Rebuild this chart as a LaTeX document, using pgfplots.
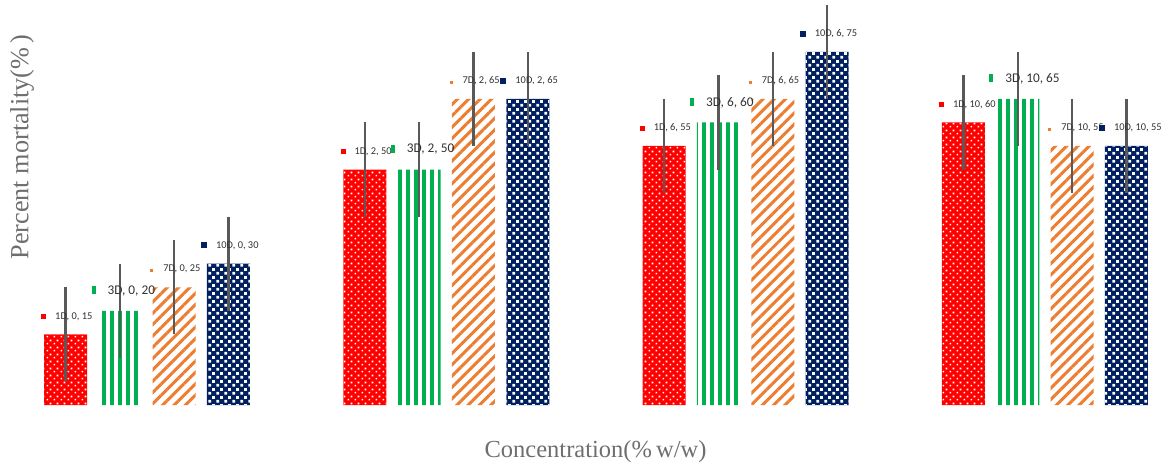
\documentclass[border=0pt]{standalone}
\usepackage{pgfplots}
\pgfplotsset{compat=1.18}
\usepackage{pgfplotstable}
\usepackage{fontspec}
\setmainfont{Liberation Serif}
\newfontfamily\lbl{Carlito}
\usetikzlibrary{patterns,patterns.meta}
\definecolor{cred}{RGB}{255,0,0}
\definecolor{cgreen}{RGB}{0,176,80}
\definecolor{corange}{RGB}{237,125,49}
\definecolor{cnavy}{RGB}{0,32,96}
\definecolor{ctext}{RGB}{110,110,110}
\definecolor{cerr}{RGB}{89,89,89}
\definecolor{clbl}{RGB}{50,50,50}

\tikzdeclarepattern{name=reddots, type=uncolored,
  bounding box={(0pt,0pt) and (6.5pt,6.5pt)}, tile size={(6.5pt,6.5pt)},
  code={\pgfpathrectangle{\pgfpoint{0.6pt}{0.6pt}}{\pgfpoint{1.8pt}{1.8pt}}
        \pgfpathrectangle{\pgfpoint{3.85pt}{3.85pt}}{\pgfpoint{1.8pt}{1.8pt}}
        \pgfusepath{fill}}}
\tikzdeclarepattern{name=navychk, type=uncolored,
  bounding box={(0pt,0pt) and (8pt,8pt)}, tile size={(8pt,8pt)},
  code={\pgfpathrectangle{\pgfpoint{0.5pt}{0.5pt}}{\pgfpoint{3.1pt}{3.1pt}}
        \pgfpathrectangle{\pgfpoint{4.5pt}{4.5pt}}{\pgfpoint{3.1pt}{3.1pt}}
        \pgfusepath{fill}}}

\pgfplotstableread{
x y e c
0 15 10 0
1 50 10 2
2 55 10 6
3 60 10 10
}\tA
\pgfplotstableread{
x y e c
0 20 10 0
1 50 10 2
2 60 10 6
3 65 10 10
}\tB
\pgfplotstableread{
x y e c
0 25 10 0
1 65 10 2
2 65 10 6
3 55 10 10
}\tC
\pgfplotstableread{
x y e c
0 30 10 0
1 65 10 2
2 75 10 6
3 55 10 10
}\tD

\begin{document}
\begin{tikzpicture}
\begin{axis}[
  at={(0pt,0pt)}, anchor=south west,
  width=1120pt, height=376.8pt, scale only axis,
  xmin=-0.3575, xmax=3.3845, ymin=0, ymax=80,
  axis line style={draw=none}, ticks=none, clip=false,
  /pgf/number format/assume math mode=true,
  ybar=11.3pt, bar width=43pt,
  xlabel={Concentration(\%\,w/w)},
  ylabel={Percent mortality(\%\,)},
  xlabel style={at={(axis description cs:0.496,0)}, anchor=center, yshift=-47pt,
    font=\fontsize{24.5}{28}\selectfont, text=ctext},
  ylabel style={at={(axis description cs:0,0.685)}, anchor=center, yshift=18pt,
    font=\fontsize{26.2}{30}\selectfont, text=ctext},
  error bars/y dir=both, error bars/y explicit,
  error bars/error mark=none,
  error bars/error bar style={cerr, line width=2.5pt},
  point meta=y,
  visualization depends on={\thisrow{c}\as\cval},
  nodes near coords style={anchor=west, inner sep=0pt, text=clbl},
]
\addplot[draw=none, fill=cred, postaction={pattern=reddots, pattern color=white},
  nodes near coords={\lbl\textcolor{cred}{\rule{5pt}{5pt}}\hspace{9pt}1D, \pgfmathprintnumber{\cval}, \pgfmathprintnumber{\pgfplotspointmeta}},
  every node near coord/.append style={xshift=-24.5pt, yshift=18pt, font=\fontsize{10.4}{12}\selectfont},
  error bars/.cd, y dir=both, y explicit]
  table[x=x, y=y, y error=e]{\tA};
\addplot[draw=none, fill=white, postaction={pattern={Lines[angle=90, distance=8pt, line width=4pt]}, pattern color=cgreen},
  nodes near coords={\lbl\textcolor{cgreen}{\rule{4pt}{8pt}}\hspace{12pt}3D, \pgfmathprintnumber{\cval}, \pgfmathprintnumber{\pgfplotspointmeta}},
  every node near coord/.append style={xshift=-28.5pt, yshift=20pt, font=\fontsize{13.3}{15}\selectfont},
  error bars/.cd, y dir=both, y explicit]
  table[x=x, y=y, y error=e]{\tB};
\addplot[draw=none, fill=white, postaction={pattern={Lines[angle=45, distance=8pt, line width=3pt]}, pattern color=corange},
  nodes near coords={\lbl\textcolor{corange}{\rule{3pt}{3pt}}\hspace{10pt}7D, \pgfmathprintnumber{\cval}, \pgfmathprintnumber{\pgfplotspointmeta}},
  every node near coord/.append style={xshift=-24pt, yshift=18pt, font=\fontsize{10.4}{12}\selectfont},
  error bars/.cd, y dir=both, y explicit]
  table[x=x, y=y, y error=e]{\tC};
\addplot[draw=none, fill=cnavy, postaction={pattern=navychk, pattern color=white},
  nodes near coords={\lbl\textcolor{cnavy}{\rule{6pt}{6pt}}\hspace{9pt}10D, \pgfmathprintnumber{\cval}, \pgfmathprintnumber{\pgfplotspointmeta}},
  every node near coord/.append style={xshift=-27.5pt, yshift=18pt, font=\fontsize{10.4}{12}\selectfont},
  error bars/.cd, y dir=both, y explicit]
  table[x=x, y=y, y error=e]{\tD};
\end{axis}
\pgfresetboundingbox
\useasboundingbox (-40pt,-61pt) rectangle (1124pt,405pt);
\end{tikzpicture}
\end{document}
